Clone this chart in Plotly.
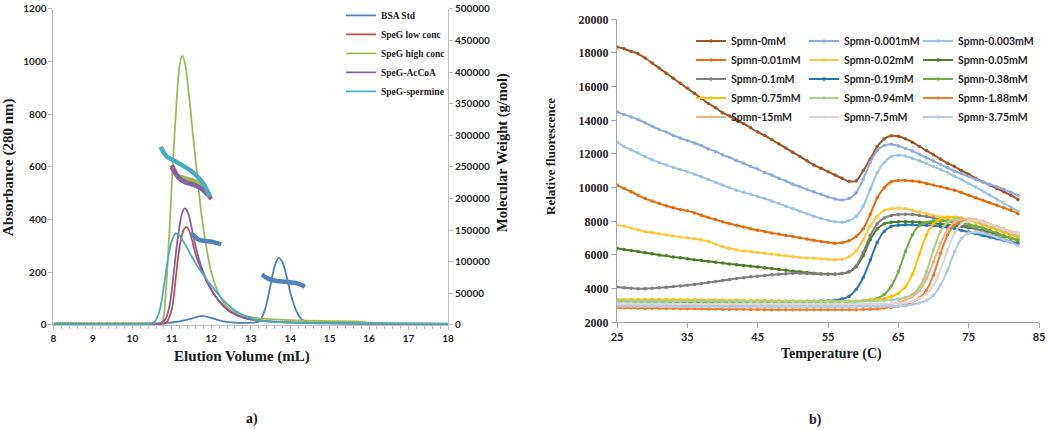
import plotly.graph_objects as go

# ================= Panel a) : size-exclusion / MALS =================
bsa_x = [8, 10, 10.8, 11.2, 11.5, 11.75, 12.0, 12.3, 12.6, 13.0, 13.2, 13.3, 13.4, 13.5, 13.6, 13.7,
         13.8, 13.9, 14.0, 14.1, 14.2, 14.3, 14.45, 14.6, 15, 18]
bsa_abs = [5, 5, 7, 14, 24, 35, 27, 14, 9, 9, 13, 35, 80, 150, 220, 255,
           240, 190, 125, 75, 40, 20, 10, 7, 6, 4]

low_x = [8, 10.5, 10.85, 11.0, 11.1, 11.2, 11.3, 11.38, 11.45, 11.6, 11.75, 11.9, 12.1, 12.3,
         12.5, 12.8, 13.0, 13.5, 14, 15, 16.5, 18]
low_abs = [3, 3, 8, 60, 180, 300, 362, 372, 355, 270, 210, 160, 110, 75,
           50, 30, 22, 14, 10, 7, 4, 3]

high_x = [8, 10.5, 10.75, 10.8, 10.9, 11.0, 11.1, 11.2, 11.27, 11.35, 11.45, 11.55, 11.65, 11.75,
          11.88, 12.0, 12.2, 12.4, 12.7, 13.0, 13.5, 14.0, 15.0, 15.7, 16.0, 17.0, 18.0]
high_abs = [8, 8, 10, 40, 250, 540, 800, 990, 1022, 980, 850, 700, 560, 420,
            290, 200, 115, 70, 42, 30, 22, 18, 15, 14, 9, 7, 6]

acoa_x = [8, 10.5, 10.7, 10.85, 10.95, 11.05, 11.15, 11.25, 11.32, 11.4, 11.5, 11.6, 11.75, 11.9,
          12.1, 12.3, 12.5, 12.8, 13.0, 13.5, 14.5, 16.0, 18.0]
acoa_abs = [3, 3, 5, 25, 80, 200, 330, 420, 443, 430, 370, 300, 220, 165,
            110, 72, 48, 28, 20, 13, 8, 5, 3]

sperm_x = [8, 10.4, 10.55, 10.7, 10.8, 10.9, 11.0, 11.1, 11.2, 11.3, 11.45, 11.6, 11.8, 12.0,
           12.2, 12.4, 12.6, 12.8, 13.0, 13.3, 13.8, 15.0, 18.0]
sperm_abs = [4, 4, 10, 60, 150, 250, 320, 348, 340, 315, 275, 235, 190, 150,
             112, 80, 55, 38, 26, 16, 10, 6, 4]

# molecular weight (g/mol), right axis
bsa_mw_x = [11.48, 11.6, 11.7, 11.85, 12.0, 12.12, 12.25, None,
            13.28, 13.45, 13.66, 13.85, 14.0, 14.2, 14.37]
bsa_mw = [145000, 139000, 134500, 133000, 132000, 130000, 127500, None,
          80000, 73000, 69600, 68500, 67500, 65500, 60600]
low_mw_x = [11.0, 11.1, 11.18, 11.3, 11.46, 11.6, 11.8, 11.9, 12.0]
low_mw = [253000, 240000, 232500, 227000, 224000, 221000, 214000, 207000, 199000]
high_mw_x = [11.0, 11.15, 11.35, 11.6, 11.75, 11.85, 11.95]
high_mw = [248000, 236000, 232000, 227000, 220000, 212000, 205000]
acoa_mw_x = [11.0, 11.15, 11.35, 11.6, 11.75, 11.85, 11.92]
acoa_mw = [250000, 235000, 226000, 221000, 216000, 210000, 206000]
sperm_mw_x = [10.72, 10.8, 10.9, 11.03, 11.2, 11.46, 11.65, 11.8, 11.97]
sperm_mw = [282000, 272000, 265000, 261000, 255000, 245000, 235000, 224000, 203000]

sec_names = ["BSA Std", "SpeG low conc", "SpeG high conc", "SpeG-AcCoA", "SpeG-spermine"]
sec_colors = ["#4F81BD", "#C0504D", "#9BBB59", "#8064A2", "#4BACC6"]

# ================= Panel b) : thermal shift =================
temps = [25, 26, 27, 28, 29, 30, 31, 32, 33, 34,
         35, 36, 37, 38, 39, 40, 41, 42, 43, 44,
         45, 46, 47, 48, 49, 50, 51, 52, 53, 54,
         55, 56, 57, 58, 59, 60, 61, 62, 63, 64,
         65, 66, 67, 68, 69, 70, 71, 72, 73, 74,
         75, 76, 77, 78, 79, 80, 81, 82]

spmn_0 = [18350, 18250, 18100, 17950, 17700, 17400, 17100, 16800, 16500, 16200,
          15900, 15600, 15300, 15000, 14750, 14450, 14250, 14000, 13800, 13550,
          13300, 13100, 12850, 12600, 12350, 12100, 11850, 11600, 11350, 11150,
          10950, 10750, 10550, 10380, 10400, 11000, 11700, 12450, 12900, 13080,
          13050, 12900, 12700, 12450, 12200, 11950, 11700, 11450, 11250, 11000,
          10800, 10550, 10350, 10150, 9950, 9750, 9550, 9300]
spmn_0001 = [14500, 14350, 14200, 14050, 13850, 13650, 13450, 13300, 13100, 12950,
             12800, 12650, 12500, 12300, 12150, 11950, 11800, 11600, 11450, 11250,
             11100, 10900, 10750, 10550, 10400, 10200, 10050, 9900, 9750, 9600,
             9450, 9330, 9270, 9350, 9700, 10500, 11500, 12200, 12500, 12580,
             12480, 12330, 12170, 11980, 11780, 11580, 11380, 11180, 10980, 10820,
             10660, 10500, 10350, 10200, 10050, 9900, 9730, 9550]
spmn_0003 = [12700, 12450, 12250, 12050, 11850, 11650, 11500, 11350, 11200, 11080,
             10950, 10800, 10650, 10480, 10320, 10150, 10000, 9850, 9720, 9600,
             9480, 9350, 9200, 9050, 8900, 8750, 8600, 8450, 8300, 8180,
             8060, 7970, 7950, 8050, 8300, 8900, 9900, 10900, 11500, 11850,
             11920, 11880, 11750, 11600, 11430, 11250, 11070, 10880, 10680, 10470,
             10250, 10030, 9800, 9560, 9320, 9080, 8840, 8600]
spmn_001 = [10150, 9950, 9750, 9550, 9350, 9200, 9050, 8920, 8800, 8700,
            8620, 8500, 8360, 8220, 8100, 7970, 7860, 7760, 7660, 7560,
            7470, 7400, 7310, 7240, 7160, 7100, 7020, 6950, 6870, 6800,
            6750, 6700, 6720, 6850, 7100, 7550, 8400, 9400, 10000, 10350,
            10430, 10430, 10400, 10350, 10250, 10150, 10050, 9950, 9850, 9700,
            9550, 9400, 9250, 9100, 8950, 8800, 8650, 8450]
spmn_002 = [7800, 7700, 7600, 7500, 7400, 7320, 7250, 7180, 7120, 7070,
            7020, 6970, 6900, 6800, 6650, 6500, 6380, 6300, 6240, 6200,
            6150, 6100, 6050, 6000, 5950, 5900, 5850, 5820, 5800, 5770,
            5740, 5720, 5750, 5900, 6250, 6900, 7700, 8300, 8650, 8750,
            8780, 8750, 8650, 8550, 8450, 8350, 8250, 8150, 8050, 7950,
            7850, 7750, 7600, 7450, 7300, 7150, 7000, 6900]
spmn_005 = [6400, 6330, 6260, 6200, 6130, 6070, 6000, 5950, 5880, 5830,
            5780, 5720, 5670, 5620, 5570, 5520, 5470, 5420, 5380, 5330,
            5290, 5240, 5190, 5140, 5090, 5040, 5000, 4960, 4920, 4890,
            4870, 4870, 4900, 5000, 5300, 5950, 6900, 7550, 7850, 7950,
            7980, 7980, 7970, 7950, 7920, 7880, 7840, 7800, 7750, 7700,
            7620, 7550, 7450, 7350, 7250, 7100, 7000, 6850]
spmn_01 = [4100, 4050, 4020, 4000, 4000, 4020, 4050, 4080, 4120, 4160,
           4200, 4250, 4300, 4360, 4420, 4480, 4540, 4600, 4650, 4700,
           4740, 4780, 4820, 4860, 4890, 4920, 4920, 4900, 4880, 4860,
           4850, 4860, 4900, 5000, 5350, 6150, 7150, 7850, 8200, 8350,
           8400, 8420, 8400, 8350, 8280, 8200, 8100, 8000, 7900, 7800,
           7700, 7550, 7400, 7250, 7100, 6950, 6800, 6700]
spmn_019 = [3260, 3260, 3250, 3250, 3250, 3250, 3250, 3240, 3240, 3240,
            3240, 3240, 3240, 3230, 3230, 3230, 3230, 3230, 3230, 3230,
            3230, 3230, 3230, 3230, 3230, 3230, 3240, 3240, 3250, 3260,
            3280, 3310, 3380, 3550, 3950, 4650, 5700, 6750, 7400, 7700,
            7770, 7790, 7790, 7780, 7760, 7730, 7690, 7630, 7550, 7460,
            7360, 7260, 7160, 7060, 6960, 6860, 6760, 6650]
spmn_038 = [3230, 3230, 3230, 3220, 3220, 3220, 3220, 3220, 3210, 3210,
            3210, 3210, 3210, 3200, 3200, 3200, 3200, 3200, 3200, 3200,
            3200, 3200, 3200, 3200, 3200, 3200, 3200, 3200, 3200, 3200,
            3200, 3200, 3210, 3220, 3240, 3270, 3320, 3420, 3650, 4150,
            5000, 6200, 7200, 7750, 7950, 8020, 8030, 8000, 7950, 7880,
            7800, 7700, 7600, 7450, 7300, 7150, 7000, 6900]
spmn_075 = [3360, 3360, 3360, 3350, 3350, 3350, 3350, 3350, 3350, 3340,
            3340, 3340, 3330, 3330, 3320, 3320, 3310, 3310, 3300, 3300,
            3290, 3290, 3280, 3280, 3270, 3270, 3260, 3260, 3260, 3250,
            3250, 3250, 3250, 3260, 3270, 3290, 3310, 3350, 3420, 3530,
            3730, 4100, 4850, 6050, 7200, 7850, 8150, 8250, 8250, 8200,
            8100, 7950, 7800, 7650, 7500, 7350, 7200, 7050]
spmn_094 = [3290, 3290, 3290, 3280, 3280, 3280, 3280, 3270, 3270, 3270,
            3270, 3260, 3260, 3260, 3260, 3250, 3250, 3250, 3250, 3240,
            3240, 3240, 3240, 3230, 3230, 3230, 3230, 3230, 3230, 3230,
            3230, 3230, 3230, 3230, 3240, 3250, 3260, 3280, 3300, 3330,
            3380, 3470, 3650, 4100, 5000, 6300, 7400, 7950, 8150, 8150,
            8100, 8000, 7900, 7750, 7600, 7450, 7300, 7150]
spmn_188 = [2860, 2850, 2850, 2840, 2840, 2830, 2830, 2820, 2820, 2810,
            2810, 2800, 2800, 2790, 2790, 2780, 2780, 2770, 2770, 2760,
            2760, 2750, 2750, 2750, 2750, 2740, 2740, 2740, 2740, 2740,
            2740, 2740, 2740, 2750, 2750, 2760, 2780, 2800, 2850, 2900,
            2960, 3050, 3200, 3450, 3900, 4800, 6100, 7200, 7800, 8050,
            8100, 8050, 7950, 7800, 7650, 7500, 7350, 7200]
spmn_15 = [3010, 3010, 3010, 3000, 3000, 3000, 3000, 3000, 3000, 2990,
           2990, 2990, 2990, 2990, 2980, 2980, 2980, 2980, 2980, 2980,
           2980, 2980, 2980, 2980, 2980, 2980, 2980, 2980, 2980, 2980,
           2980, 2980, 2980, 2990, 2990, 3000, 3010, 3020, 3040, 3080,
           3170, 3320, 3530, 3880, 4600, 5600, 6700, 7500, 7950, 8120,
           8150, 8100, 8000, 7850, 7700, 7550, 7400, 7300]
spmn_75 = [3110, 3110, 3110, 3100, 3100, 3100, 3100, 3100, 3100, 3090,
           3090, 3090, 3090, 3090, 3080, 3080, 3080, 3080, 3080, 3080,
           3080, 3080, 3080, 3080, 3080, 3080, 3080, 3080, 3080, 3080,
           3080, 3080, 3080, 3080, 3080, 3080, 3090, 3090, 3100, 3110,
           3120, 3150, 3250, 3400, 3700, 4200, 5100, 6300, 7300, 7850,
           8050, 8050, 7950, 7800, 7650, 7500, 7350, 7250]
spmn_375 = [2960, 2960, 2950, 2950, 2950, 2950, 2950, 2950, 2940, 2940,
            2940, 2940, 2940, 2940, 2930, 2930, 2930, 2930, 2930, 2930,
            2930, 2930, 2930, 2930, 2930, 2930, 2930, 2930, 2930, 2930,
            2930, 2930, 2930, 2930, 2930, 2940, 2940, 2950, 2950, 2960,
            2970, 2980, 3050, 3150, 3300, 3600, 4200, 5100, 6200, 7000,
            7300, 7350, 7300, 7200, 7050, 6900, 6750, 6550]

tsa_names = ["Spmn-0mM", "Spmn-0.001mM", "Spmn-0.003mM",
             "Spmn-0.01mM", "Spmn-0.02mM", "Spmn-0.05mM",
             "Spmn-0.1mM", "Spmn-0.19mM", "Spmn-0.38mM",
             "Spmn-0.75mM", "Spmn-0.94mM", "Spmn-1.88mM",
             "Spmn-15mM", "Spmn-7.5mM", "Spmn-3.75mM"]
tsa_values = [spmn_0, spmn_0001, spmn_0003, spmn_001, spmn_002, spmn_005,
              spmn_01, spmn_019, spmn_038, spmn_075, spmn_094, spmn_188,
              spmn_15, spmn_75, spmn_375]
tsa_colors = ["#A0562A", "#8FAADC", "#9DC3E6",
              "#E46C0A", "#F9CB3C", "#4E7A2A",
              "#7F7F7F", "#2E75B6", "#70AD47",
              "#FFC000", "#A9D18E", "#ED7D31",
              "#F4B183", "#D9D9D9", "#B4C7E7"]

# ================= Figure =================
fig = go.Figure()

SERIF = "Liberation Serif"
SANS = "Lato"

abs_x = [bsa_x, low_x, high_x, acoa_x, sperm_x]
abs_y = [bsa_abs, low_abs, high_abs, acoa_abs, sperm_abs]
mw_x = [bsa_mw_x, low_mw_x, high_mw_x, acoa_mw_x, sperm_mw_x]
mw_y = [bsa_mw, low_mw, high_mw, acoa_mw, sperm_mw]

for name, col, xs, ys in zip(sec_names, sec_colors, abs_x, abs_y):
    fig.add_trace(go.Scatter(x=xs, y=ys, name=name, mode="lines",
                             line=dict(color=col, width=1.8, shape="spline", smoothing=0.8),
                             xaxis="x", yaxis="y", legend="legend"))
for name, col, xs, ys in zip(sec_names, sec_colors, mw_x, mw_y):
    fig.add_trace(go.Scatter(x=xs, y=ys, name=name + " MW", mode="lines",
                             line=dict(color=col, width=4.5, shape="spline", smoothing=0.8),
                             connectgaps=False, showlegend=False,
                             xaxis="x", yaxis="y2"))

col_of = {0: "legend2", 1: "legend3", 2: "legend4"}
for i, (name, col, ys) in enumerate(zip(tsa_names, tsa_colors, tsa_values)):
    fig.add_trace(go.Scatter(x=temps, y=ys, name=name, mode="lines+markers",
                             line=dict(color=col, width=2, shape="spline", smoothing=0.6),
                             marker=dict(color=col, size=3.5),
                             xaxis="x2", yaxis="y3", legend=col_of[i % 3]))

axis_gray = "#BFBFBF"
axis_gray2 = "#A6A6A6"
tick_sans = dict(family=SANS, size=10, color="#262626", weight="bold")

common = dict(showgrid=False, zeroline=False, automargin=False, tickformat="d",
              showline=True, linewidth=1, ticks="outside")

fig.update_layout(
    width=1050, height=430,
    margin=dict(l=0, r=0, t=0, b=0, autoexpand=False),
    paper_bgcolor="white", plot_bgcolor="white",
    showlegend=True,
    xaxis=dict(domain=[0.05095, 0.42667], range=[8, 18], dtick=1, tick0=8,
               linecolor=axis_gray, ticklen=4, tickcolor=axis_gray,
               minor=dict(ticks="outside", ticklen=3, dtick=0.2, tickcolor=axis_gray),
               tickfont=tick_sans, anchor="y", **common),
    yaxis=dict(domain=[0.24419, 0.97907], range=[0, 1200], dtick=200,
               linecolor=axis_gray, ticklen=4, tickcolor=axis_gray,
               tickfont=tick_sans, anchor="x", **common),
    yaxis2=dict(overlaying="y", side="right", range=[0, 500000], dtick=50000,
                linecolor=axis_gray, ticklen=4, tickcolor=axis_gray,
                tickfont=tick_sans, anchor="x", **common),
    xaxis2=dict(domain=[0.58762, 0.98952], range=[25, 85], dtick=10, tick0=25,
                linecolor=axis_gray2, ticklen=5, tickcolor=axis_gray2,
                tickfont=dict(family=SANS, size=11, color="#262626", weight="bold"),
                anchor="y3", **common),
    yaxis3=dict(domain=[0.25047, 0.95512], range=[2000, 20000], dtick=2000,
                linecolor=axis_gray2, ticklen=5, tickcolor=axis_gray2,
                tickfont=dict(family=SERIF, size=12, color="#262626", weight="bold"),
                anchor="x2", **common),
    legend=dict(x=0.3248, y=0.998, xanchor="left", yanchor="top",
                bgcolor="rgba(0,0,0,0)", borderwidth=0, tracegroupgap=0,
                font=dict(family=SERIF, size=9.5, color="#262626", weight="bold")),
)

leg_font = dict(family=SANS, size=10.5, color="#262626", weight="bold")
for key, xpos in (("legend2", 0.6581), ("legend3", 0.7657), ("legend4", 0.8743)):
    fig.update_layout({key: dict(x=xpos, y=0.9386, xanchor="left", yanchor="top",
                                 bgcolor="rgba(0,0,0,0)", borderwidth=0,
                                 font=leg_font)})

ann_font = dict(family=SERIF, color="#1a1a1a", weight="bold")
annots = [
    ("Absorbance (280 nm)", 8, 167, -90, 15),
    ("Molecular Weight (g/mol)", 502, 153, -90, 14.5),
    ("Elution Volume (mL)", 242, 356, 0, 15),
    ("a)", 252, 419, 0, 14),
    ("Relative fluorescence", 550, 157, -90, 13),
    ("Temperature (C)", 831, 354, 0, 14),
    ("b)", 815, 420, 0, 14),
]
for text, px, py, ang, sz in annots:
    fig.add_annotation(text=text, x=px / 1050, y=1 - py / 430, xref="paper", yref="paper",
                       xanchor="center", yanchor="middle", textangle=ang, showarrow=False,
                       font=dict(size=sz, **ann_font))

# remove the default page margin so the figure sits at the window's top-left corner
fig.write_html("out.html",
               config={"displayModeBar": False},
               post_script="document.body.style.margin='0';document.body.style.overflow='hidden';")
